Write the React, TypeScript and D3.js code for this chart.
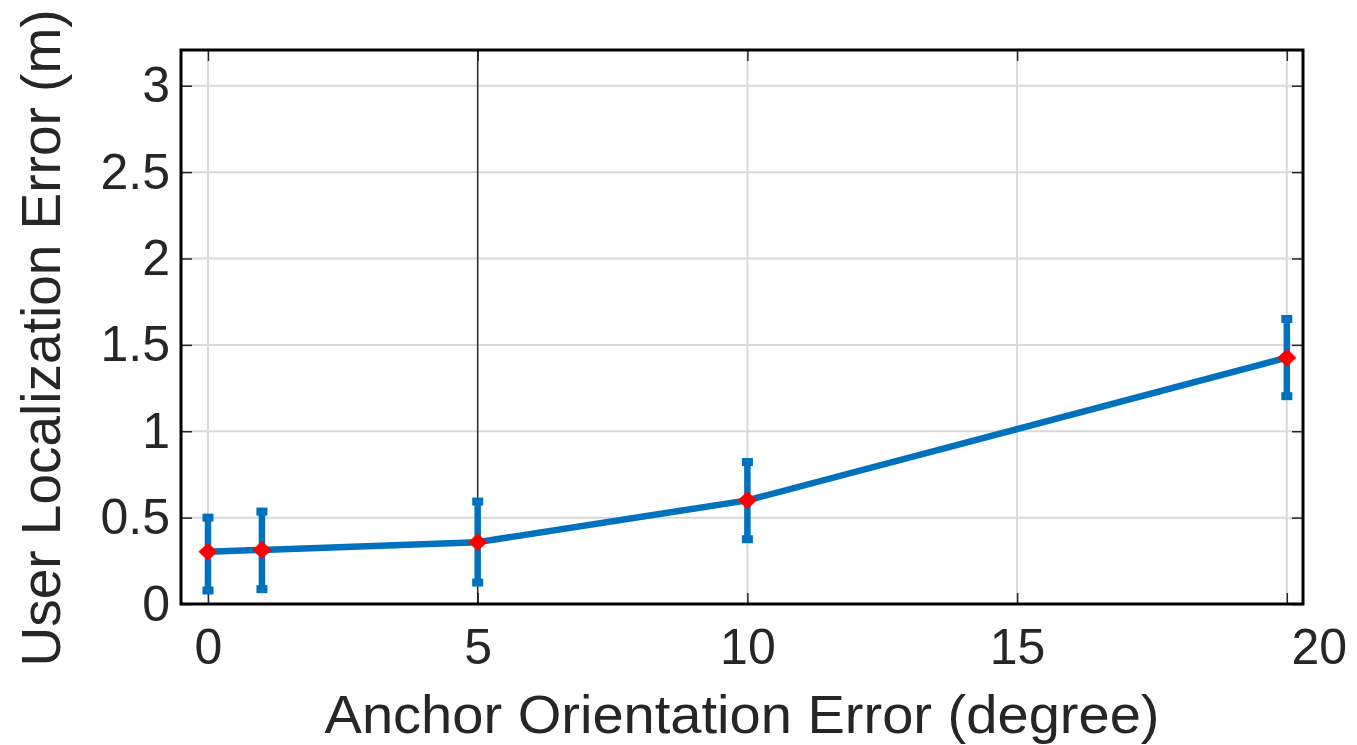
import { useEffect, useRef } from "react";
import * as d3 from "d3";

// anchor orientation error (degree)
const orientErr = [0, 1, 5, 10, 20];
// mean user localization error (m)
const meanErr = [0.303, 0.313, 0.358, 0.6, 1.426];
// error bar bounds (m)
const lowerErr = [0.078, 0.086, 0.124, 0.375, 1.203];
const upperErr = [0.5, 0.535, 0.593, 0.822, 1.65];

const xTicks = [0, 5, 10, 15, 20];
const yTicks = [0, 0.5, 1, 1.5, 2, 2.5, 3];

const xLabel = "Anchor Orientation Error (degree)";
const yLabel = "User Localization Error (m)";

const W = 1357;
const H = 745;
const FONT = "'Liberation Sans', Arial, Helvetica, sans-serif";
const BLUE = "#0072BD";
const TEXT = "#262626";

export default function App() {
  const svgRef = useRef<SVGSVGElement>(null);

  useEffect(() => {
    if (!svgRef.current) return;
    const margin = { top: 50, right: 54, bottom: 141, left: 181 };
    const innerW = W - margin.left - margin.right;
    const innerH = H - margin.top - margin.bottom;

    const svg = d3.select(svgRef.current);
    svg.selectAll("*").remove();

    const g = svg
      .append("g")
      .attr("transform", `translate(${margin.left},${margin.top})`);

    const x = d3.scaleLinear().domain([-0.5, 20.3]).range([0, innerW]);
    const y = d3.scaleLinear().domain([0, 3.207]).range([innerH, 0]);

    // grid
    g.append("g")
      .selectAll("line")
      .data(yTicks)
      .join("line")
      .attr("x1", 0)
      .attr("x2", innerW)
      .attr("y1", (d) => y(d))
      .attr("y2", (d) => y(d))
      .attr("stroke", "#d9d9d9")
      .attr("stroke-width", 2);
    g.append("g")
      .selectAll("line")
      .data(xTicks)
      .join("line")
      .attr("x1", (d) => x(d))
      .attr("x2", (d) => x(d))
      .attr("y1", 0)
      .attr("y2", innerH)
      .attr("stroke", (d) => (d === 5 ? "#262626" : "#d9d9d9"))
      .attr("stroke-width", (d) => (d === 5 ? 1.5 : 2));

    // axes (ticks pointing inward)
    const styleAxis = (sel: d3.Selection<SVGGElement, unknown, null, undefined>) => {
      sel.select(".domain").remove();
      sel.selectAll(".tick line").attr("stroke", TEXT).attr("stroke-width", 1.5);
      sel
        .selectAll("text")
        .attr("fill", TEXT)
        .style("font-family", FONT)
        .style("font-size", "50px");
    };

    g.append("g")
      .call(d3.axisLeft(y).tickValues(yTicks).tickSizeInner(-11).tickSizeOuter(0).tickPadding(11).tickFormat(d3.format("")))
      .call(styleAxis);
    const xAxis = g
      .append("g")
      .attr("transform", `translate(0,${innerH})`)
      .call(d3.axisBottom(x).tickValues(xTicks).tickSizeInner(-11).tickSizeOuter(0).tickPadding(24))
      .call(styleAxis);
    // last label sits to the right of its tick in the original
    xAxis
      .selectAll<SVGTextElement, number>(".tick text")
      .attr("dx", (d) => (d === 20 ? 32 : 0));
    g.append("g")
      .attr("transform", `translate(${innerW},0)`)
      .call(d3.axisRight(y).tickValues(yTicks).tickSizeInner(-11).tickSizeOuter(0).tickFormat(() => ""))
      .call(styleAxis);
    g.append("g")
      .call(d3.axisTop(x).tickValues(xTicks).tickSizeInner(-11).tickSizeOuter(0).tickFormat(() => ""))
      .call(styleAxis);

    // frame
    g.append("rect")
      .attr("x", 0)
      .attr("y", 0)
      .attr("width", innerW)
      .attr("height", innerH)
      .attr("fill", "none")
      .attr("stroke", "#000")
      .attr("stroke-width", 3);

    const pts = orientErr.map((o, i) => ({
      o,
      m: meanErr[i],
      lo: lowerErr[i],
      hi: upperErr[i],
    }));

    // error bars
    const eb = g.append("g");
    eb.selectAll("line")
      .data(pts)
      .join("line")
      .attr("x1", (d) => x(d.o))
      .attr("x2", (d) => x(d.o))
      .attr("y1", (d) => y(d.lo))
      .attr("y2", (d) => y(d.hi))
      .attr("stroke", BLUE)
      .attr("stroke-width", 6.5);
    eb.selectAll("rect")
      .data(pts.flatMap((d) => [{ o: d.o, v: d.lo }, { o: d.o, v: d.hi }]))
      .join("rect")
      .attr("x", (d) => x(d.o) - 5.5)
      .attr("y", (d) => y(d.v) - 4)
      .attr("width", 11)
      .attr("height", 8)
      .attr("fill", BLUE);

    // mean line
    const line = d3
      .line<(typeof pts)[number]>()
      .x((d) => x(d.o))
      .y((d) => y(d.m));
    g.append("path")
      .datum(pts)
      .attr("d", line)
      .attr("fill", "none")
      .attr("stroke", BLUE)
      .attr("stroke-width", 6.5)
      .attr("stroke-linejoin", "round");

    // diamond markers
    const rx = 9.5;
    const ry = 9;
    g.append("g")
      .selectAll("path")
      .data(pts)
      .join("path")
      .attr("d", (d) => {
        const cx = x(d.o);
        const cy = y(d.m);
        return `M${cx},${cy - ry}L${cx + rx},${cy}L${cx},${cy + ry}L${cx - rx},${cy}Z`;
      })
      .attr("fill", "#ff0000");

    // axis labels
    svg
      .append("text")
      .attr("x", margin.left + innerW / 2)
      .attr("y", 733)
      .attr("text-anchor", "middle")
      .attr("fill", TEXT)
      .attr("textLength", 835)
      .attr("lengthAdjust", "spacingAndGlyphs")
      .style("font-family", FONT)
      .style("font-size", "54px")
      .text(xLabel);

    svg
      .append("text")
      .attr("transform", `translate(60,338) rotate(-90)`)
      .attr("text-anchor", "middle")
      .attr("fill", TEXT)
      .style("font-family", FONT)
      .style("font-size", "55px")
      .text(yLabel);
  }, []);

  return (
    <svg
      ref={svgRef}
      width={W}
      height={H}
      style={{ position: "fixed", left: 0, top: 0, background: "#fff" }}
    />
  );
}
